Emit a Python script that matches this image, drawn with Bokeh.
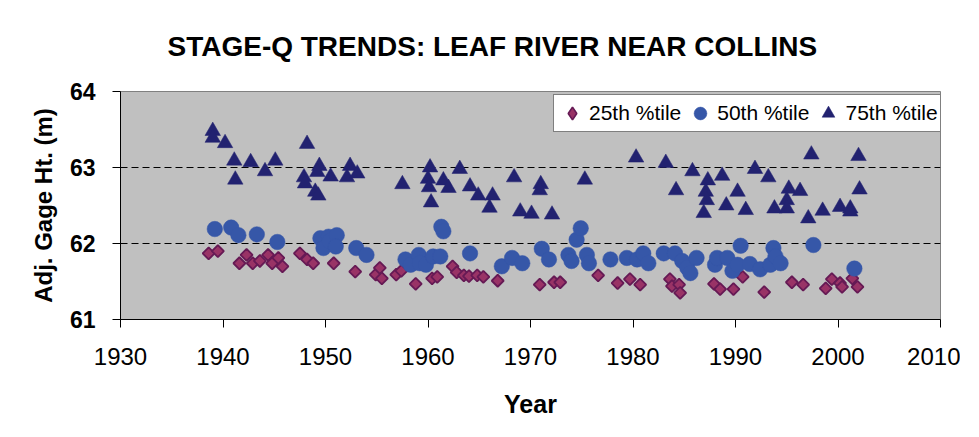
import math
from bokeh.plotting import figure
from bokeh.models import FixedTicker, Legend, LegendItem
from bokeh.embed import file_html
from bokeh.resources import INLINE

# ---- data ----
p25_year = [1938.6, 1939.5, 1941.6, 1942.3, 1942.9, 1943.6, 1944.4, 1944.8, 1945.4, 1945.8,
            1947.5, 1948.2, 1948.8, 1950.8, 1952.9, 1954.9, 1955.3, 1955.5, 1956.9, 1957.4,
            1958.8, 1960.4, 1960.9, 1962.4, 1962.8, 1963.5, 1964.0, 1964.8, 1965.4, 1966.8,
            1970.9, 1972.3, 1972.9, 1976.6, 1978.5, 1979.7, 1980.7, 1983.6, 1983.8, 1984.5,
            1984.6, 1987.9, 1988.5, 1989.8, 1990.7, 1992.8, 1995.5, 1996.6, 1998.8, 1999.4,
            2000.2, 2000.4, 2001.4, 2001.9]
p25_val = [61.87, 61.90, 61.74, 61.85, 61.74, 61.77, 61.85, 61.74, 61.81, 61.70,
           61.87, 61.79, 61.74, 61.74, 61.63, 61.59, 61.68, 61.54, 61.59, 61.64,
           61.47, 61.54, 61.56, 61.70, 61.62, 61.58, 61.57, 61.58, 61.56, 61.51,
           61.46, 61.49, 61.49, 61.58, 61.48, 61.53, 61.46, 61.53, 61.44, 61.46,
           61.35, 61.47, 61.40, 61.40, 61.56, 61.36, 61.49, 61.46, 61.41, 61.53,
           61.48, 61.43, 61.54, 61.43]

p50_year = [1939.2, 1940.8, 1941.5, 1943.3, 1945.3, 1949.5, 1949.8, 1950.3, 1950.4, 1951.1,
            1951.0, 1953.0, 1954.0, 1957.8, 1958.3, 1959.1, 1959.2, 1959.8, 1960.5, 1961.2,
            1961.3, 1961.5, 1964.1, 1967.2, 1968.2, 1969.2, 1971.1, 1971.8, 1973.7, 1974.0,
            1974.5, 1974.9, 1975.5, 1975.7, 1977.8, 1979.4, 1980.4, 1981.0, 1981.5, 1983.0,
            1984.1, 1984.8, 1985.3, 1985.6, 1986.2, 1988.0, 1988.2, 1989.2, 1989.7, 1990.2,
            1990.5, 1991.4, 1992.4, 1993.4, 1993.7, 1993.9, 1994.4, 1997.6, 2001.6]
p50_val = [62.19, 62.21, 62.11, 62.12, 62.02, 62.07, 61.94, 62.09, 62.03, 62.11,
           61.96, 61.94, 61.85, 61.79, 61.72, 61.85, 61.74, 61.72, 61.83, 61.83,
           62.22, 62.16, 61.87, 61.70, 61.81, 61.74, 61.93, 61.79, 61.85, 61.77,
           62.05, 62.20, 61.85, 61.74, 61.79, 61.81, 61.79, 61.87, 61.74, 61.87,
           61.87, 61.77, 61.68, 61.61, 61.81, 61.72, 61.81, 61.81, 61.64, 61.72,
           61.97, 61.73, 61.66, 61.72, 61.94, 61.83, 61.74, 61.98, 61.67]

p75_year = [1939.0, 1939.0, 1940.2, 1941.1, 1941.2, 1942.7, 1944.1, 1945.1, 1948.2, 1947.9,
            1948.0, 1949.4, 1949.2, 1949.0, 1949.3, 1950.5, 1952.4, 1952.1, 1953.1, 1957.5,
            1960.2, 1960.0, 1960.1, 1960.3, 1961.5, 1962.0, 1963.1, 1964.1, 1964.9, 1966.3,
            1966.0, 1968.4, 1969.0, 1970.1, 1971.0, 1970.9, 1972.1, 1975.3, 1980.3, 1983.2,
            1984.2, 1985.8, 1987.3, 1987.1, 1987.2, 1986.9, 1988.7, 1989.1, 1990.2, 1991.0,
            1991.9, 1993.2, 1993.8, 1995.2, 1995.0, 1995.0, 1996.3, 1997.1, 1997.4, 1998.5,
            2000.2, 2001.2, 2001.2, 2002.0, 2002.1]
p75_val = [63.48, 63.39, 63.32, 63.09, 62.84, 63.07, 62.95, 63.09, 63.31, 62.87,
           62.79, 63.02, 62.94, 62.68, 62.63, 62.88, 63.02, 62.87, 62.92, 62.78,
           63.00, 62.85, 62.74, 62.54, 62.83, 62.73, 62.98, 62.75, 62.63, 62.63,
           62.47, 62.87, 62.42, 62.39, 62.78, 62.70, 62.38, 62.84, 63.13, 63.06,
           62.70, 62.95, 62.83, 62.68, 62.57, 62.40, 62.89, 62.50, 62.68, 62.44,
           62.98, 62.87, 62.46, 62.72, 62.57, 62.46, 62.69, 62.33, 63.17, 62.43,
           62.48, 62.46, 62.42, 63.15, 62.71]

series_names = ["25th %tile", "50th %tile", "75th %tile"]
x_ticks = [1930, 1940, 1950, 1960, 1970, 1980, 1990, 2000, 2010]
y_ticks = [61, 62, 63, 64]
grid_levels = [62, 63]
title_text = "STAGE-Q TRENDS: LEAF RIVER NEAR COLLINS"
x_title = "Year"
y_title = "Adj. Gage Ht. (m)"

FONT = "Liberation Sans"

p = figure(width=960, height=420, output_backend="svg", toolbar_location=None,
           x_range=(x_ticks[0], x_ticks[-1]), y_range=(y_ticks[0], y_ticks[-1]),
           min_border_left=120, min_border_right=20, min_border_top=91, min_border_bottom=98,
           title=title_text)
p.background_fill_color = "#C0C0C0"
p.border_fill_color = "white"
p.outline_line_color = "#808080"
p.outline_line_width = 1

# title
p.title.text_font = FONT
p.title.text_font_style = "bold"
p.title.text_font_size = "28px"
p.title.text_color = "black"
p.title.align = "left"
p.title.vertical_align = "top"
p.title.offset = 47
p.title.standoff = 55

# axes
p.xaxis.ticker = FixedTicker(ticks=x_ticks)
p.yaxis.ticker = FixedTicker(ticks=y_ticks)
p.xaxis.minor_tick_line_color = None
p.yaxis.minor_tick_line_color = None
for ax in (p.xaxis[0], p.yaxis[0]):
    ax.axis_line_color = "black"
    ax.axis_line_width = 1
    ax.major_tick_line_color = "black"
    ax.major_tick_in = 0
    ax.major_tick_out = 8
    ax.axis_label_text_font = FONT
    ax.axis_label_text_font_style = "bold"
    ax.axis_label_text_color = "black"
    ax.major_label_text_font = FONT
    ax.major_label_text_color = "black"

p.xaxis.axis_label = x_title
p.xaxis.axis_label_text_font_size = "25px"
p.xaxis.major_label_text_font_size = "24px"
p.xaxis.major_label_text_font_style = "normal"
p.xaxis.major_label_standoff = 20
p.xaxis.axis_label_standoff = 22

p.yaxis.axis_label = y_title
p.yaxis.axis_label_text_font_size = "24px"
p.yaxis.major_label_text_font_size = "23px"
p.yaxis.major_label_text_font_style = "bold"
p.yaxis.major_label_standoff = 17
p.yaxis.axis_label_standoff = 10

# grid
p.xgrid.grid_line_color = None
p.ygrid.ticker = FixedTicker(ticks=grid_levels)
p.ygrid.grid_line_color = "black"
p.ygrid.grid_line_dash = "7 4"
p.ygrid.grid_line_width = 1

# series
D_FILL, D_LINE = "#993366", "#661A55"
C_COL = "#3657A8"
T_COL = "#222270"

# legend proxy for the diamond (drawn underneath the rotated squares, fully hidden by them)
r25_key = p.scatter(p25_year, p25_val, marker="diamond", size=10,
                    fill_color=D_FILL, line_color=D_LINE, line_width=1.6)
r25 = p.scatter(p25_year, p25_val, marker="square", angle=math.pi / 4, size=8.5,
                fill_color=D_FILL, line_color=D_LINE, line_width=1.8)
r50 = p.scatter(p50_year, p50_val, marker="circle", size=15.5,
                fill_color=C_COL, line_color=C_COL, line_width=0.5)
r75 = p.scatter(p75_year, p75_val, marker="triangle", size=15.5,
                fill_color=T_COL, line_color=T_COL, line_width=0.5)

legend = Legend(items=[LegendItem(label=series_names[0], renderers=[r25_key]),
                       LegendItem(label=series_names[1], renderers=[r50]),
                       LegendItem(label=series_names[2], renderers=[r75])],
                orientation="horizontal", location=(433, 187))
legend.label_text_font = FONT
legend.label_text_font_size = "21px"
legend.label_text_color = "black"
legend.glyph_width = 32
legend.glyph_height = 32
legend.label_standoff = 1
legend.spacing = 3
legend.padding = 2
legend.margin = 0
legend.border_line_color = "black"
legend.border_line_width = 1
legend.background_fill_color = "white"
legend.background_fill_alpha = 1
p.add_layout(legend, "center")

open("out.html", "w").write(file_html(p, INLINE))
